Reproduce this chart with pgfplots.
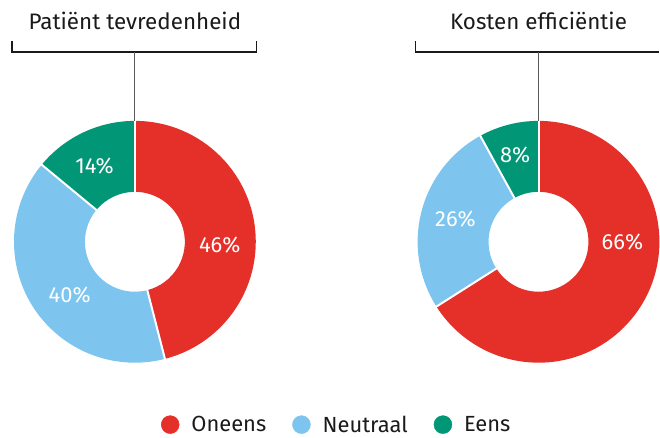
\documentclass[border=0pt]{standalone}
\usepackage{fontspec}
\setmainfont{Fira Sans}
\usepackage{pgfplots}
\usepackage{pgfplotstable}
\pgfplotsset{compat=1.18}

\definecolor{oneens}{RGB}{229,48,42}
\definecolor{neutraal}{RGB}{125,196,238}
\definecolor{eens}{RGB}{0,150,118}
\definecolor{ink}{RGB}{26,26,26}

% share (%), colour, label angle, label radius
\pgfplotstableread{
v  col      la   lr
46 oneens   -2   85
40 neutraal 219  84
14 eens     118  86
}\patient
\pgfplotstableread{
v  col      la   lr
66 oneens   0    84
26 neutraal 165  86
8  eens     105  90
}\kosten
\pgfplotstablecreatecol[create col/expr accum={\pgfmathaccuma+\thisrow{v}}{0}]{cum}{\patient}
\pgfplotstablecreatecol[create col/expr accum={\pgfmathaccuma+\thisrow{v}}{0}]{cum}{\kosten}

% #1 table, #2/#3 centre
\newcommand\donut[3]{%
  \pgfplotsinvokeforeach{0,1,2}{%
    \pgfplotstablegetelem{##1}{v}\of#1\let\dv\pgfplotsretval
    \pgfplotstablegetelem{##1}{col}\of#1\let\dc\pgfplotsretval
    \pgfplotstablegetelem{##1}{la}\of#1\let\dla\pgfplotsretval
    \pgfplotstablegetelem{##1}{lr}\of#1\let\dlr\pgfplotsretval
    \pgfplotstablegetelem{##1}{cum}\of#1\let\dcum\pgfplotsretval
    \pgfmathsetmacro\aS{90-3.6*(\dcum-\dv)}
    \pgfmathsetmacro\aE{90-3.6*\dcum}
    \edef\temp{%
      \noexpand\fill[\dc] (axis cs:#2,#3) ++(\aS:121bp)
        arc[start angle=\aS, end angle=\aE, radius=121bp]
        -- ++(\aE:-71bp)
        arc[start angle=\aE, end angle=\aS, radius=50bp] -- cycle;
      \noexpand\path (axis cs:#2,#3) ++(\dla:\dlr bp)
        node[white, font=\noexpand\fontsize{22}{26}\noexpand\selectfont] {\dv\noexpand\%};
    }\temp
  }%
  \pgfplotsinvokeforeach{0,1,2}{%
    \pgfplotstablegetelem{##1}{v}\of#1\let\dv\pgfplotsretval
    \pgfplotstablegetelem{##1}{cum}\of#1\let\dcum\pgfplotsretval
    \pgfmathsetmacro\aS{90-3.6*(\dcum-\dv)}
    \edef\temp{%
      \noexpand\draw[white, line width=2bp] (axis cs:#2,#3) ++(\aS:48bp) -- ++(\aS:76bp);
    }\temp
  }%
}

\begin{document}
\begin{tikzpicture}
\begin{axis}[
  x=1bp, y=1bp,
  xmin=0, xmax=660, ymin=0, ymax=437,
  hide axis, clip=false,
  legend columns=-1,
  legend style={draw=none, fill=none, at={(axis cs:337,12)}, anchor=center,
    font=\fontsize{22}{26}\selectfont, text=ink,
    /tikz/every even column/.append style={column sep=24bp}},
  legend image code/.code={\fill[#1] (0bp,0bp) circle (9bp); \path (19bp,0bp);},
]
\path (axis cs:0,0) rectangle (axis cs:660,437);
\donut{\patient}{135}{195}
\donut{\kosten}{539}{195}

% titles and brackets
\node[ink, font=\fontsize{22.5}{26}\selectfont] at (axis cs:135,416) {Patiënt tevredenheid};
\node[ink, font=\fontsize{22.5}{26}\selectfont] at (axis cs:539,416) {Kosten efficiëntie};
\draw[ink, line width=1.2bp] (axis cs:12,396) |- (axis cs:257,385) -- (axis cs:257,396);
\draw[ink, line width=1.2bp] (axis cs:416,396) |- (axis cs:660,385);
\draw[black!65, line width=1.2bp] (axis cs:135,385) -- (axis cs:135,316);
\draw[black!65, line width=1.2bp] (axis cs:539,385) -- (axis cs:539,316);

\addlegendimage{oneens}
\addlegendentry{Oneens}
\addlegendimage{neutraal}
\addlegendentry{Neutraal}
\addlegendimage{eens}
\addlegendentry{Eens}
\end{axis}
\end{tikzpicture}
\end{document}
